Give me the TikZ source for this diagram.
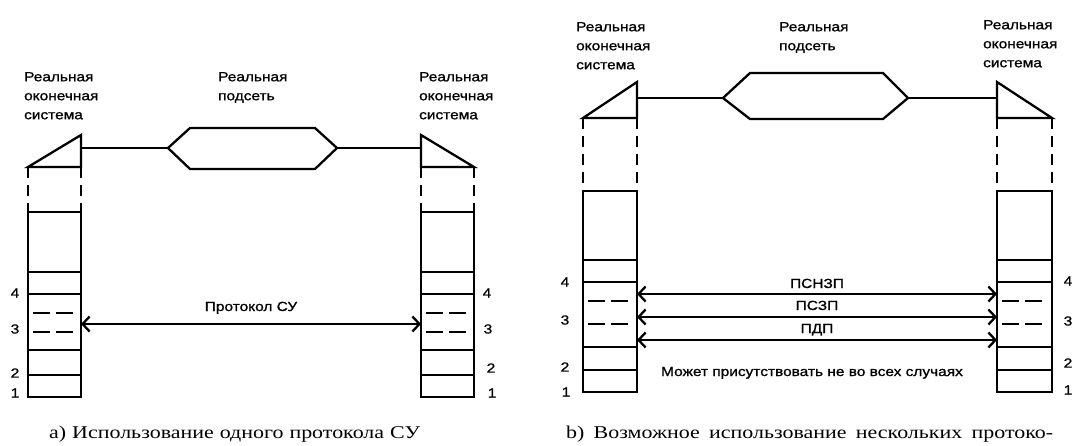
\documentclass[tikz,border=0pt]{standalone}
\usepackage{fontspec}
\setmainfont[FakeStretch=1.22]{Liberation Serif}
\newfontfamily\lblfont[FakeStretch=1.17,FakeBold=1]{Liberation Sans}
\usetikzlibrary{arrows.meta,positioning}

\tikzset{
  lbl/.style={font=\lblfont\fontsize{13.2}{19}\selectfont, align=left, anchor=north west, inner sep=0pt},
  num/.style={font=\lblfont\fontsize{13.2}{15}\selectfont, inner sep=0pt},
  proto/.style={{Straight Barb[length=7pt,width=15pt]}-{Straight Barb[length=7pt,width=15pt]}},
  layerdash/.style={dash pattern=on 17pt off 6pt, line width=2.6pt},
  drop/.style={dash pattern=on 11pt off 7pt},
  caption/.style={font=\fontsize{18}{22}\selectfont, anchor=base west, inner sep=0pt}
}

\begin{document}
\begin{tikzpicture}[x=1pt,y=-1pt,line width=2.3pt]
\useasboundingbox (0,0) rectangle (1076,445);

% a) one protocol
\node[lbl] (aES1) at (23,71) {Реальная\\оконечная\\система};
\node[lbl] (aSN) at (217,71) {Реальная\\подсеть};
\node[lbl] (aES2) at (418,71) {Реальная\\оконечная\\система};

\draw (28,167) -- (81,135) -- (81,167) -- cycle;
\draw (421,135) -- (421,167) -- (474,167) -- cycle;
\draw (168,148) -- (190,128) -- (315,128) -- (337,148) -- (315,169) -- (190,169) -- cycle;

\coordinate (aT1) at (81,148);
\coordinate (aH1) at (168,148);
\coordinate (aH2) at (337,148);
\coordinate (aT2) at (421,148);
\draw (aT1) -- (aH1);
\draw (aH2) -- (aT2);

\foreach \xl/\xr in {28/81,421/474}{
  \draw[drop] (\xl,167) -- (\xl,212);
  \draw[drop] (\xr,167) -- (\xr,212);
  \draw (\xl,212) rectangle (\xr,397);
  \foreach \y in {272,294,350,375}
    \draw (\xl,\y) -- (\xr,\y);
  \foreach \y in {313,332}
    \draw[layerdash] (\xl+5,\y) -- (\xr-7,\y);
}

\node[num] (a4L) at (15,293) {4};
\node[num] (a3L) at (15,329) {3};
\node[num] (a2L) at (15,373) {2};
\node[num] (a1L) at (15,393) {1};
\node[num] (a4R) at (487,293) {4};
\node[num] (a3R) at (488,329) {3};
\node[num] (a2R) at (491,368) {2};
\node[num] (a1R) at (492,393) {1};

\coordinate (aP1) at (81,324);
\coordinate (aP2) at (421,324);
\draw[proto] (aP1) -- node[num, anchor=base, yshift=13pt] (aPlbl) {Протокол СУ} (aP2);

\node[caption] (aCap) at (48,438) {\hbox to 362pt{а)\hfil\hskip 6pt Использование\hfil\hskip 6pt одного\hfil\hskip 6pt протокола\hfil\hskip 6pt СУ}};

% b) several protocols
\node[lbl] (bES1) at (575,21) {Реальная\\оконечная\\система};
\node[lbl] (bSN) at (778,21) {Реальная\\подсеть};
\node[lbl] (bES2) at (982,19) {Реальная\\оконечная\\система};

\draw (583,118) -- (637,82) -- (637,118) -- cycle;
\draw (997,82) -- (997,118) -- (1052,118) -- cycle;
\draw (723,98) -- (750,73) -- (883,73) -- (908,98) -- (883,119) -- (750,119) -- cycle;

\coordinate (bT1) at (637,98);
\coordinate (bH1) at (723,98);
\coordinate (bH2) at (908,98);
\coordinate (bT2) at (997,98);
\draw (bT1) -- (bH1);
\draw (bH2) -- (bT2);

\foreach \xl/\xr in {583/637,997/1052}{
  \draw[drop] (\xl,118) -- (\xl,191);
  \draw[drop] (\xr,118) -- (\xr,191);
  \draw (\xl,191) rectangle (\xr,392);
  \foreach \y in {260,282,347,370}
    \draw (\xl,\y) -- (\xr,\y);
  \foreach \y in {301,324}
    \draw[layerdash] (\xl+5,\y) -- (\xr-7,\y);
}

\node[num] (b4L) at (565,282) {4};
\node[num] (b3L) at (565,320) {3};
\node[num] (b2L) at (565,367) {2};
\node[num] (b1L) at (566,392) {1};
\node[num] (b4R) at (1068,281) {4};
\node[num] (b3R) at (1068,321) {3};
\node[num] (b2R) at (1068,363) {2};
\node[num] (b1R) at (1068,390) {1};

\coordinate (bP1) at (637,294);
\coordinate (bP2) at (997,294);
\coordinate (bQ1) at (637,317);
\coordinate (bQ2) at (997,317);
\coordinate (bR1) at (637,340);
\coordinate (bR2) at (997,340);
\draw[proto] (bP1) -- node[num, anchor=base, yshift=6pt] (bPlbl) {ПСНЗП} (bP2);
\draw[proto] (bQ1) -- node[num, anchor=base, yshift=7pt] (bQlbl) {ПСЗП} (bQ2);
\draw[proto] (bR1) -- node[num, anchor=base, yshift=7pt] (bRlbl) {ПДП} (bR2);

\node[num, anchor=base] (bNote) at (812,376) {Может присутствовать не во всех случаях};

\node[caption] (bCap) at (565,438) {\hbox to 487pt{b)\hfil Возможное\hfil использование\hfil нескольких\hfil протоко-}};

\end{tikzpicture}
\end{document}
